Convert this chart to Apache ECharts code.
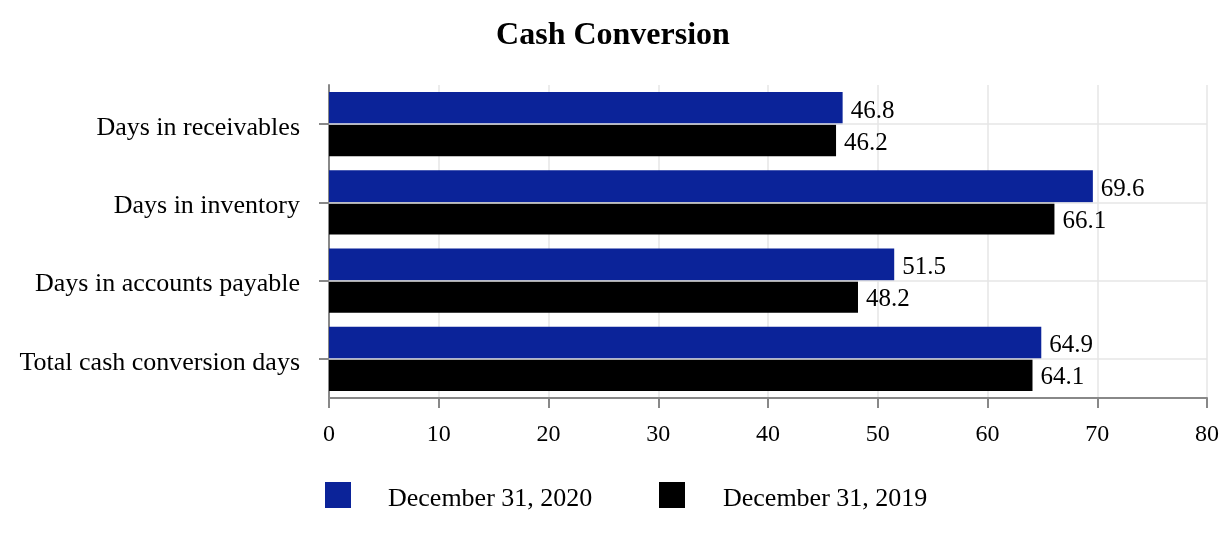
<!DOCTYPE html>
<html>
<head>
<meta charset="utf-8">
<script src="https://cdn.jsdelivr.net/npm/echarts@6/dist/echarts.min.js"></script>
<style>
  html, body { margin: 0; padding: 0; background: #fff; }
  #main { width: 1226px; height: 540px; }
</style>
</head>
<body>
<div id="main"></div>
<script>
// data
const categories = [
  "Days in receivables",
  "Days in inventory",
  "Days in accounts payable",
  "Total cash conversion days"
];
const seriesNames = ["December 31, 2020", "December 31, 2019"];
const values2020 = [46.8, 69.6, 51.5, 64.9];
const values2019 = [46.2, 66.1, 48.2, 64.1];
const xTicks = [0, 10, 20, 30, 40, 50, 60, 70, 80];

const font = "Liberation Serif, Times New Roman, serif";
const chart = echarts.init(document.getElementById("main"));

const barLabel = {
  show: true,
  position: "right",
  distance: 8,
  offset: [0, 3],
  color: "#000",
  fontFamily: font,
  fontSize: 25,
  formatter: (p) => p.value.toFixed(1)
};

// pushes text a few pixels down inside its box
const lowered = (size, top) => ({
  a: { fontFamily: font, fontSize: size, color: "#000", padding: [top, 0, 0, 0] }
});

chart.setOption({
  animation: false,
  title: {
    text: "Cash Conversion",
    left: "center",
    top: 15,
    textStyle: { fontFamily: font, fontSize: 32, fontWeight: "bold", color: "#000" }
  },
  legend: [
    {
      data: [seriesNames[0]],
      left: 325, top: 482, padding: 0,
      itemWidth: 26, itemHeight: 26,
      icon: "rect",
      formatter: (n) => "{a|" + n + "}",
      textStyle: { padding: [0, 0, 0, 32], rich: lowered(26, 8) }
    },
    {
      data: [seriesNames[1]],
      left: 659, top: 482, padding: 0,
      itemWidth: 26, itemHeight: 26,
      icon: "rect",
      formatter: (n) => "{a|" + n + "}",
      textStyle: { padding: [0, 0, 0, 33], rich: lowered(26, 8) }
    }
  ],
  grid: { left: 329, right: 19, top: 85, bottom: 142 },
  xAxis: {
    type: "value",
    min: xTicks[0],
    max: xTicks[xTicks.length - 1],
    interval: 10,
    axisLine: { show: true, lineStyle: { color: "#888", width: 2 } },
    axisTick: { show: true, length: 10, lineStyle: { color: "#888", width: 2 } },
    axisLabel: { color: "#000", fontFamily: font, fontSize: 24, margin: 25 },
    splitLine: { show: true, lineStyle: { color: "#e6e6e6", width: 1.5 } }
  },
  yAxis: {
    type: "category",
    inverse: true,
    data: categories,
    axisLine: { show: true, lineStyle: { color: "#888", width: 2 } },
    axisTick: { show: true, alignWithLabel: true, length: 10, lineStyle: { color: "#888", width: 2 } },
    axisLabel: {
      margin: 29,
      formatter: (v) => "{a|" + v + "}",
      rich: lowered(26, 8)
    },
    splitLine: { show: false }
  },
  series: [
    {
      name: seriesNames[0],
      type: "bar",
      data: values2020,
      barGap: "0%",
      barCategoryGap: "18%",
      itemStyle: { color: "#0b2399" },
      label: barLabel
    },
    {
      name: seriesNames[1],
      type: "bar",
      data: values2019,
      itemStyle: { color: "#000" },
      label: barLabel
    },
    {
      // horizontal grid lines at the category centres
      type: "line",
      data: [],
      silent: true,
      markLine: {
        silent: true,
        symbol: "none",
        label: { show: false },
        lineStyle: { color: "#e6e6e6", type: "solid", width: 1.5 },
        data: categories.map((c) => ({ yAxis: c }))
      }
    }
  ]
});
</script>
</body>
</html>
